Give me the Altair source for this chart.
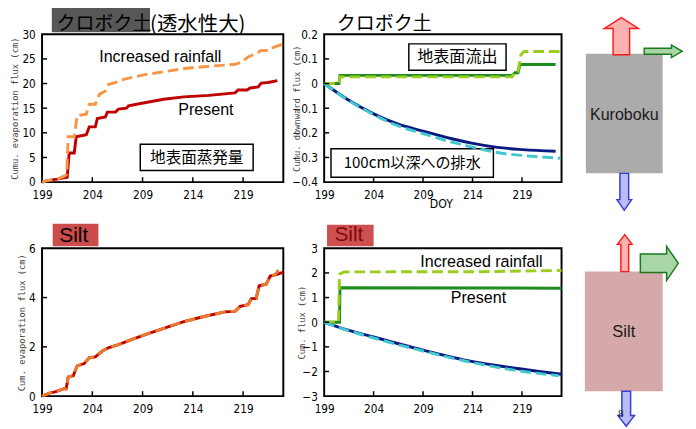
import altair as alt
import pandas as pd

# ---------------- data ----------------
X_TICKS = [199, 204, 209, 214, 219]

# Kuroboku: cumulative evaporation flux (cm)
kuro_evap_present_day = [199, 199.5, 200.5, 201.5, 201.7, 202.2, 202.4, 203.4, 203.7, 204.3, 204.5, 205.3,
                         205.5, 206.3, 206.6, 207.4, 207.6, 209.2, 211.1, 213.1, 215.6, 218.2, 218.5, 219.4,
                         219.7, 220.5, 220.8, 221.5, 222.4]
kuro_evap_present_val = [0, 0.3, 0.6, 1.0, 5.9, 5.9, 9.2, 9.6, 11.2, 11.2, 12.9, 13.2,
                         14.2, 14.2, 14.8, 15.0, 15.5, 16.1, 16.8, 17.3, 17.6, 18.1, 18.7, 18.7,
                         19.1, 19.3, 20.1, 20.2, 20.6]
kuro_evap_rain_day = [199, 199.5, 200.5, 201.3, 201.45, 201.6, 202.2, 202.5, 203.4, 203.7, 204.3, 204.7,
                      205.3, 205.6, 206.6, 207.2, 209.2, 211.1, 213.4, 215.6, 218.2, 218.9, 219.5, 220.2,
                      220.8, 221.5, 222.1, 222.9]
kuro_evap_rain_val = [0, 0.3, 0.6, 1.3, 1.6, 9.2, 9.2, 13.5, 13.8, 15.8, 15.8, 17.8,
                      18.5, 19.8, 20.4, 20.9, 21.8, 22.4, 23.1, 23.5, 23.9, 24.4, 25.4, 26.0,
                      26.7, 26.7, 27.4, 28.0]

# Kuroboku: surface runoff and drainage below 100 cm (cm)
kuro_runoff_present_day = [199, 200.5, 200.6, 218.0, 218.3, 218.6, 218.8, 222.4]
kuro_runoff_present_val = [0, 0, 0.033, 0.033, 0.044, 0.044, 0.077, 0.077]
kuro_runoff_rain_day = [199, 200.5, 200.6, 218.0, 218.3, 218.6, 218.9, 219.2, 222.9]
kuro_runoff_rain_val = [0, 0, 0.027, 0.027, 0.05, 0.05, 0.117, 0.13, 0.13]
kuro_drain_present_day = [199, 201.45, 204, 206.35, 209, 211.9, 213.9, 216.5, 219.1, 222.4]
kuro_drain_present_val = [0, -0.067, -0.123, -0.163, -0.193, -0.224, -0.242, -0.259, -0.268, -0.275]
kuro_drain_rain_day = [199, 201.45, 204, 206.35, 209, 211.9, 213.9, 216.5, 219.1, 222.9]
kuro_drain_rain_val = [0, -0.068, -0.126, -0.170, -0.203, -0.238, -0.257, -0.280, -0.292, -0.303]

# Silt: cumulative evaporation flux (cm)
silt_evap_present_day = [199, 199.8, 200.3, 201.2, 201.4, 201.6, 202.1, 202.5, 203.2, 203.7, 204.3, 205.0,
                         205.6, 206.6, 207.9, 209.2, 211.1, 213.1, 215.0, 217.2, 218.2, 218.7, 219.5,
                         219.8, 220.3, 220.6, 221.3, 221.7, 222.4, 223.0]
silt_evap_present_val = [0, 0.13, 0.17, 0.30, 0.30, 0.77, 0.83, 1.23, 1.32, 1.56, 1.59, 1.83,
                         1.96, 2.09, 2.29, 2.49, 2.75, 3.02, 3.22, 3.42, 3.44, 3.64, 3.71,
                         3.95, 3.97, 4.48, 4.54, 4.87, 4.94, 5.03]
silt_evap_rain_day = [199, 199.8, 200.3, 201.2, 201.4, 201.6, 202.1, 202.5, 203.2, 203.7, 204.3, 205.0,
                      205.6, 206.6, 207.9, 209.2, 211.1, 213.1, 215.0, 217.2, 218.2, 218.7, 219.5,
                      219.8, 220.3, 220.6, 221.3, 221.7, 222.2, 222.5]
silt_evap_rain_val = [0, 0.13, 0.17, 0.30, 0.30, 0.77, 0.83, 1.23, 1.32, 1.56, 1.59, 1.83,
                      1.96, 2.09, 2.29, 2.49, 2.75, 3.02, 3.22, 3.42, 3.44, 3.64, 3.71,
                      3.95, 3.97, 4.48, 4.54, 4.85, 4.92, 5.12]

# Silt: surface runoff and drainage (cm)
silt_runoff_present_day = [199, 200.55, 200.6, 223]
silt_runoff_present_val = [0, 0, 1.40, 1.38]
silt_runoff_rain_day = [199, 200.45, 200.55, 201, 215, 223]
silt_runoff_rain_val = [0, 0, 1.95, 2.04, 2.05, 2.10]
silt_drain_present_day = [199, 200.5, 204, 209, 213.9, 219.1, 223]
silt_drain_present_val = [0, -0.21, -0.60, -1.13, -1.59, -1.91, -2.11]
silt_drain_rain_day = [199, 200.5, 204, 209, 213.9, 219.1, 222.7]
silt_drain_rain_val = [0, -0.22, -0.64, -1.17, -1.63, -2.00, -2.17]

# ---------------- styling ----------------
LAB_FONT = "Liberation Sans Narrow, DejaVu Sans Condensed, Liberation Sans, sans-serif"
TXT_FONT = "Liberation Sans, Arial, sans-serif"
JP_FONT = "Noto Sans CJK JP"
AX_FONT = "DejaVu Sans Mono"
DASH = [11, 5]

XS = alt.Scale(domain=[199, 223], nice=False, zero=False)


def yscale(dom):
    return alt.Scale(domain=dom, nice=False, zero=False)


def xaxis(**kw):
    base = dict(values=X_TICKS, grid=False, ticks=False, tickSize=0, domain=False,
                labelFont=LAB_FONT, labelFontSize=12, labelColor="black", labelPadding=8,
                labelFlush=False, labelOverlap=False)
    base.update(kw)
    if "title" not in base:
        base["title"] = None
    return alt.Axis(**base)


def yaxis(values, title, extent, pad, expr=None):
    kw = dict(values=values, grid=False, ticks=False, tickSize=0, domain=False,
              labelFont=LAB_FONT, labelFontSize=12, labelColor="black", labelPadding=7,
              labelOverlap=False, labelFlush=False, title=title, titleFont=AX_FONT,
              titleFontSize=9, titleFontWeight="normal", titleColor="#444444", titlePadding=pad,
              minExtent=extent, maxExtent=extent)
    if expr:
        kw["labelExpr"] = expr
    return alt.Axis(**kw)


class Panel:
    """Collects the layers of one plot panel; every layer shares the same scales and axes."""

    def __init__(self, ydom, xax, yax):
        self.ys = yscale(ydom)
        self.ydom = ydom
        self.xax = xax
        self.yax = yax
        self.layers = []

    def X(self, f):
        return alt.X(f, scale=XS, axis=self.xax)

    def Y(self, f):
        return alt.Y(f, scale=self.ys, axis=self.yax)

    def lines(self, days, vals, color, dashed, smooth=False):
        df = pd.DataFrame({"day": days, "val": vals})
        mk = dict(color=color, strokeWidth=3, strokeCap="butt",
                  interpolate="monotone" if smooth else "linear")
        if dashed:
            mk["strokeDash"] = DASH
        self.layers.append(alt.Chart(df).mark_line(**mk).encode(x=self.X("day:Q"), y=self.Y("val:Q")))

    def ticks(self, yvals, dx, dy):
        y0 = self.ydom[0]
        ydf = pd.DataFrame({"v": yvals, "a": [199] * len(yvals), "b": [199 + dx] * len(yvals)})
        xdf = pd.DataFrame({"v": X_TICKS[1:], "a": [y0] * 4, "b": [y0 + dy] * 4})
        self.layers.append(alt.Chart(ydf).mark_rule(color="black", strokeWidth=1.5).encode(
            x=self.X("a:Q"), x2="b:Q", y=self.Y("v:Q")))
        self.layers.append(alt.Chart(xdf).mark_rule(color="black", strokeWidth=1.5).encode(
            x=self.X("v:Q"), y=self.Y("a:Q"), y2="b:Q"))

    def box(self, x1, x2, y1, y2, fill, stroke=None):
        df = pd.DataFrame({"x1": [x1], "x2": [x2], "y1": [y1], "y2": [y2]})
        mk = dict(fill=fill, clip=False)
        if stroke:
            mk.update(stroke=stroke, strokeWidth=1.5)
        else:
            mk.update(strokeWidth=0)
        self.layers.append(alt.Chart(df).mark_rect(**mk).encode(
            x=self.X("x1:Q"), x2="x2:Q", y=self.Y("y1:Q"), y2="y2:Q"))

    def text(self, x, y, txt, font, size, color="black", align="center"):
        df = pd.DataFrame({"x": [x], "y": [y], "t": [txt]})
        self.layers.append(alt.Chart(df).mark_text(font=font, fontSize=size, color=color, align=align,
                                                   baseline="middle", clip=False).encode(
            x=self.X("x:Q"), y=self.Y("y:Q"), text="t:N"))

    def chart(self, width):
        return alt.layer(*self.layers).properties(width=width, height=152)


# ---------------- panel A: Kuroboku evaporation ----------------
pa = Panel([0, 30], xaxis(), yaxis([0, 5, 10, 15, 20, 25, 30], "Cumu. evaporation flux (cm)", 21, 2))
pa.box(208.77, 220.0, 7.70, 2.37, "white", "black")
pa.lines(kuro_evap_present_day, kuro_evap_present_val, "#c00000", False)
pa.lines(kuro_evap_rain_day, kuro_evap_rain_val, "#f79646", True)
pa.ticks([5, 10, 15, 20, 25], 0.5, 1.0)
pa.box(199.97, 209.74, 30.39, 35.33, "#575757")
pa.text(200.45, 32.0, "クロボク土", JP_FONT, 19.5, align="left")
pa.text(209.74, 31.85, "(透水性大)", JP_FONT, 21, align="left")
pa.text(210.76, 25.4, "Increased rainfall", TXT_FONT, 16.5)
pa.text(215.3, 14.6, "Present", TXT_FONT, 16.5)
pa.text(214.39, 4.93, "地表面蒸発量", JP_FONT, 16)
A = pa.chart(248)

# ---------------- panel B: Kuroboku runoff / drainage ----------------
pb = Panel([-0.4, 0.2],
           xaxis(title="DOY", titleX=120, titleY=22, titleFont=LAB_FONT, titleFontSize=12.5,
                 titleFontWeight="normal", titleBaseline="middle", titleAlign="center"),
           yaxis([-0.4, -0.3, -0.2, -0.1, 0, 0.1, 0.2], "Cumu. downward flux (cm)", 22, 1.5,
                 "datum.value == 0 ? '0' : format(datum.value, '.1f')"))
pb.box(207.56, 217.39, 0.161, 0.054, "white", "black")
pb.box(199.69, 216.11, -0.265, -0.380, "white", "black")
pb.lines(kuro_runoff_present_day, kuro_runoff_present_val, "#1e8c1e", False)
pb.lines(kuro_runoff_rain_day, kuro_runoff_rain_val, "#9acd1e", True)
pb.lines(kuro_drain_present_day, kuro_drain_present_val, "#0a1a80", False, smooth=True)
pb.lines(kuro_drain_rain_day, kuro_drain_rain_val, "#40c8d0", True, smooth=True)
pb.ticks([-0.3, -0.2, -0.1, 0, 0.1], 0.5, 0.02)
pb.text(200.28, 0.239, "クロボク土", JP_FONT, 19.5, align="left")
pb.text(212.47, 0.108, "地表面流出", JP_FONT, 16.5)
pb.text(207.9, -0.322, "100cm以深への排水", JP_FONT, 15.5)
B = pb.chart(244)

# ---------------- panel D: Silt evaporation ----------------
pd_ = Panel([0, 6], xaxis(), yaxis([0, 2, 4, 6], "Cum. evaporation flux (cm)", 14, 2))
pd_.lines(silt_evap_present_day, silt_evap_present_val, "#c00000", False)
pd_.lines(silt_evap_rain_day, silt_evap_rain_val, "#ec7a2c", True)
pd_.ticks([2, 4], 0.5, 0.2)
pd_.box(200.06, 204.61, 6.99, 6.08, "#cc4c4c")
pd_.text(202.15, 6.5, "Silt", TXT_FONT, 21.5)
D = pd_.chart(248)

# ---------------- panel E: Silt runoff / drainage ----------------
pe = Panel([-3, 3], xaxis(), yaxis([-3, -2, -1, 0, 1, 2, 3], "Cum. flux (cm)", 17, 1.5))
pe.lines(silt_runoff_present_day, silt_runoff_present_val, "#1e8c1e", False)
pe.lines(silt_runoff_rain_day, silt_runoff_rain_val, "#9acd1e", True)
pe.lines(silt_drain_present_day, silt_drain_present_val, "#0a1a80", False, smooth=True)
pe.lines(silt_drain_rain_day, silt_drain_rain_val, "#40c8d0", True, smooth=True)
pe.ticks([-2, -1, 0, 1, 2], 0.5, 0.2)
pe.box(199.29, 204.0, 3.95, 3.08, "#cd4f4f")
pe.text(201.5, 3.52, "Silt", TXT_FONT, 21.5, color="#7a0c0c")
pe.text(214.9, 2.45, "Increased rainfall", TXT_FONT, 16.5)
pe.text(214.6, 0.99, "Present", TXT_FONT, 16.5)
E = pe.chart(244)


# ---------------- schematic diagrams (drawn in pixel-like diagram units) ----------------
def arrow_up(w_shaft, w_head, l_shaft, l_total):
    a, h = w_shaft / 2, w_head / 2
    return (f"M{-a},0 L{-a},{-l_shaft} L{-h},{-l_shaft} L0,{-l_total} "
            f"L{h},{-l_shaft} L{a},{-l_shaft} L{a},0 Z")


def arrow_down(w_shaft, w_head, l_shaft, l_total):
    a, h = w_shaft / 2, w_head / 2
    return (f"M{-a},0 L{-a},{l_shaft} L{-h},{l_shaft} L0,{l_total} "
            f"L{h},{l_shaft} L{a},{l_shaft} L{a},0 Z")


def arrow_right(w_shaft, w_head, l_shaft, l_total):
    a, h = w_shaft / 2, w_head / 2
    return (f"M0,{-a} L{l_shaft},{-a} L{l_shaft},{-h} L{l_total},0 "
            f"L{l_shaft},{h} L{l_shaft},{a} L0,{a} Z")


def diagram(xdom, ydom, width, box_xy, box_fill, name, name_xy, name_size, arrows, extra=None):
    xs = alt.Scale(domain=xdom, nice=False, zero=False)
    ys = alt.Scale(domain=ydom, nice=False, zero=False, reverse=True)
    bdf = pd.DataFrame({"x1": [box_xy[0]], "x2": [box_xy[1]], "y1": [box_xy[2]], "y2": [box_xy[3]]})
    layers = [alt.Chart(bdf).mark_rect(fill=box_fill, strokeWidth=0, clip=False).encode(
        x=alt.X("x1:Q", scale=xs, axis=None), x2="x2:Q",
        y=alt.Y("y1:Q", scale=ys, axis=None), y2="y2:Q")]
    for (ax, ay, path, fill, stroke) in arrows:
        adf = pd.DataFrame({"x": [ax], "y": [ay]})
        layers.append(alt.Chart(adf).mark_point(shape=path, size=4, filled=True, fill=fill,
                                                stroke=stroke, strokeWidth=1.5, opacity=1,
                                                clip=False).encode(
            x=alt.X("x:Q", scale=xs, axis=None), y=alt.Y("y:Q", scale=ys, axis=None)))
    tdf = pd.DataFrame({"x": [name_xy[0]], "y": [name_xy[1]], "t": [name]})
    layers.append(alt.Chart(tdf).mark_text(font=TXT_FONT, fontSize=name_size, color="#1a1a1a",
                                           baseline="middle", clip=False).encode(
        x=alt.X("x:Q", scale=xs, axis=None), y=alt.Y("y:Q", scale=ys, axis=None), text="t:N"))
    if extra:
        edf = pd.DataFrame({"x": [extra[0]], "y": [extra[1]], "t": [extra[2]]})
        layers.append(alt.Chart(edf).mark_text(font="DejaVu Serif", fontSize=10, color="#222222",
                                               baseline="middle", clip=False).encode(
            x=alt.X("x:Q", scale=xs, axis=None), y=alt.Y("y:Q", scale=ys, axis=None), text="t:N"))
    return alt.layer(*layers).properties(width=width, height=152,
                                         view=alt.ViewBackground(stroke="transparent"))


RED_F, RED_S = "#ffb0b0", "#ff1a1a"
GRN_F, GRN_S = "#a9d6a9", "#1a7a1a"
BLU_F, BLU_S = "#b8bdf2", "#3a3ad8"

C = diagram([571, 691], [30, 182], 120, (588, 667, 50, 173), "#ababab", "Kuroboku", (627.5, 113), 16.5,
            [(624.5, 51, arrow_up(17, 35, 27, 38), RED_F, RED_S),
             (648, 47.5, arrow_right(6, 13, 28, 39), GRN_F, GRN_S),
             (627.5, 173, arrow_down(9, 15, 27, 38), BLU_F, BLU_S)])

F = diagram([576, 691], [246, 398], 115, (586, 666, 270, 393), "#d5a9a9", "Silt", (626, 332), 17,
            [(627, 270, arrow_up(8, 15, 28, 38), RED_F, RED_S),
             (643, 261.5, arrow_right(19, 35, 27, 39), GRN_F, GRN_S),
             (628.5, 393, arrow_down(9, 17, 25, 36), BLU_F, BLU_S)],
            extra=(623, 416, "8"))

row1 = alt.hconcat(A, B, C, spacing=1)
row2 = alt.hconcat(D, E, F, spacing=6)
chart = alt.vconcat(row1, row2, spacing=8).properties(
    padding={"left": 2, "top": -8, "right": 0, "bottom": 0},
    background="white",
).configure_view(stroke="black", strokeWidth=2)

chart.save("out.html", embed_options={"renderer": "svg", "actions": False})
